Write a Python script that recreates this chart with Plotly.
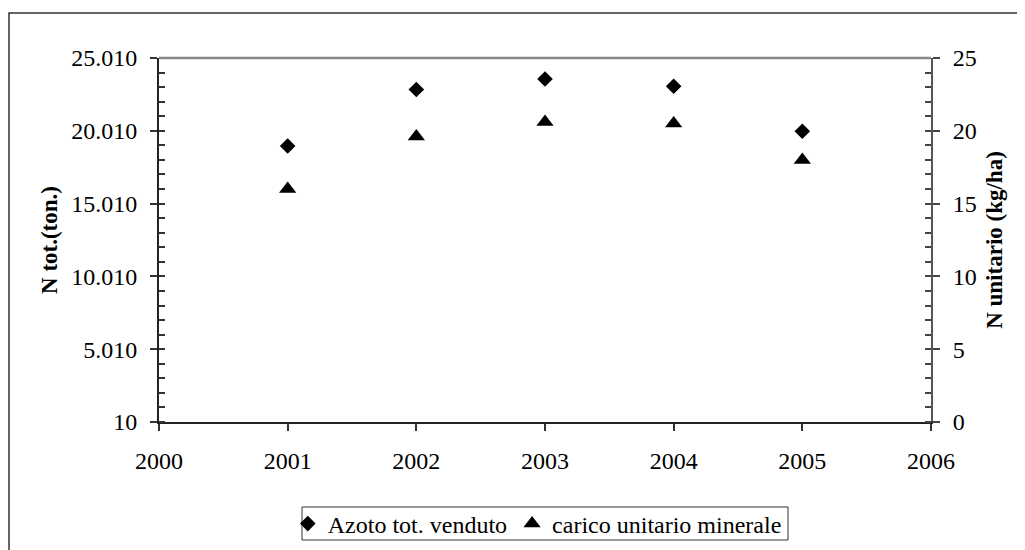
import plotly.graph_objects as go

years = [2001, 2002, 2003, 2004, 2005]
azoto_tot = [18970, 22850, 23570, 23070, 19980]
carico_unitario = [16.0, 19.6, 20.6, 20.5, 18.0]

left_tickvals = [10, 5010, 10010, 15010, 20010, 25010]
left_ticktext = ["10", "5.010", "10.010", "15.010", "20.010", "25.010"]
right_tickvals = [0, 5, 10, 15, 20, 25]
x_tickvals = [2000, 2001, 2002, 2003, 2004, 2005, 2006]

FONT = "Liberation Serif"
OFF = 8                       # page body margin
W, H = 1025 - OFF, 550 - OFF
L, R, T, B = 159 - OFF, 931 - OFF, 58 - OFF, 422 - OFF

def px_x(p):
    return (p - OFF - L) / (R - L)

def px_y(p):
    return (B - (p - OFF)) / (B - T)

fig = go.Figure()
fig.add_trace(go.Scatter(
    x=years, y=azoto_tot, mode="markers", name="Azoto tot. venduto",
    marker=dict(symbol="diamond", size=12, color="black"),
    yaxis="y"))
fig.add_trace(go.Scatter(
    x=years, y=carico_unitario, mode="markers", name="carico unitario minerale",
    marker=dict(symbol="triangle-up", size=15, color="black"),
    yaxis="y2"))

fig.update_layout(
    width=W, height=H,
    margin=dict(l=L, r=W - R, t=T, b=H - B, pad=0, autoexpand=False),
    paper_bgcolor="white", plot_bgcolor="white",
    font=dict(family=FONT, size=24, color="black"),
    showlegend=True,
    legend=dict(orientation="h", x=0.49, xanchor="center", y=px_y(524), yanchor="middle",
                borderwidth=0, bgcolor="rgba(0,0,0,0)",
                font=dict(family=FONT, size=24), itemsizing="trace",
                tracegroupgap=0),
    xaxis=dict(range=[2000, 2006], tickvals=x_tickvals, ticks="outside", ticklen=7,
               tickcolor="#333", tickwidth=1.5,
               showline=True, linecolor="#222", linewidth=2, showgrid=False, zeroline=False,
               ticklabelstandoff=9, tickfont=dict(family=FONT, size=24)),
    yaxis=dict(range=[10, 25010], tickvals=left_tickvals, ticktext=left_ticktext,
               ticks="outside", ticklen=7, tickcolor="#333", tickwidth=1.5,
               minor=dict(dtick=1000, tick0=10, ticks="inside", ticklen=6,
                          tickcolor="#333", tickwidth=1.5, showgrid=False),
               showline=True, linecolor="#222", linewidth=2, showgrid=False, zeroline=False,
               ticklabelstandoff=8, tickfont=dict(family=FONT, size=24),
               title=dict(text="<b>N tot.(ton.)</b>", font=dict(family=FONT, size=23),
                          standoff=7)),
    yaxis2=dict(range=[0, 25], tickvals=right_tickvals, overlaying="y", side="right",
                ticks="outside", ticklen=7, tickcolor="#444", tickwidth=1.5,
                minor=dict(dtick=1, ticks="inside", ticklen=6, tickcolor="#444",
                           tickwidth=1.5, showgrid=False),
                showline=True, linecolor="#555", linewidth=2, showgrid=False, zeroline=False,
                ticklabelstandoff=8, tickfont=dict(family=FONT, size=24),
                title=dict(text="<b>N unitario (kg/ha)</b>", font=dict(family=FONT, size=23),
                           standoff=10)),
    # inner halves of the crossing major ticks
    yaxis3=dict(range=[10, 25010], tickvals=left_tickvals, overlaying="y", side="left",
                ticks="inside", ticklen=6, tickcolor="#333", tickwidth=1.5,
                showticklabels=False, showline=False, showgrid=False, zeroline=False),
    yaxis4=dict(range=[0, 25], tickvals=right_tickvals, overlaying="y", side="right",
                ticks="inside", ticklen=6, tickcolor="#444", tickwidth=1.5,
                showticklabels=False, showline=False, showgrid=False, zeroline=False),
    shapes=[
        dict(type="line", xref="paper", yref="paper", x0=0, x1=1, y0=1, y1=1,
             line=dict(color="#888", width=2.5)),
        dict(type="rect", xref="paper", yref="paper",
             x0=px_x(9), x1=px_x(1022), y0=px_y(580), y1=px_y(13),
             line=dict(color="#333", width=1.5), fillcolor="rgba(0,0,0,0)", layer="below"),
        # legend frame
        dict(type="rect", xref="paper", yref="paper",
             x0=px_x(302), x1=px_x(788), y0=px_y(540), y1=px_y(507),
             line=dict(color="#333", width=1), fillcolor="white", layer="below"),
    ],
)

# dummy invisible traces so the helper axes are drawn
fig.add_trace(go.Scatter(x=[None], y=[None], yaxis="y3", showlegend=False, hoverinfo="skip"))
fig.add_trace(go.Scatter(x=[None], y=[None], yaxis="y4", showlegend=False, hoverinfo="skip"))

fig.write_html("out.html")
